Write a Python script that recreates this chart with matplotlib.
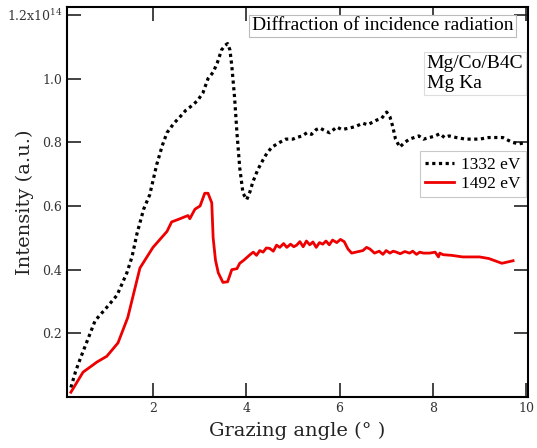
import numpy as np
import matplotlib
matplotlib.use('Agg')
import matplotlib.pyplot as plt

plt.rcParams['font.family'] = 'DejaVu Serif'
plt.rcParams['mathtext.fontset'] = 'dejavuserif'

# 1332 eV (black dotted), intensity in units of 1e14
x_1332 = [0.24, 0.34, 0.44, 0.6, 0.76, 1.0, 1.23, 1.44, 1.55, 1.66, 1.8, 1.93, 2.08, 2.2, 2.3,
          2.45, 2.58, 2.7, 2.79, 2.95, 3.07, 3.18, 3.29, 3.38, 3.47, 3.55, 3.6, 3.65, 3.69, 3.75,
          3.8, 3.86, 3.93, 4.01, 4.08, 4.14, 4.25, 4.36, 4.44, 4.55, 4.72, 4.85, 5.0, 5.08, 5.2,
          5.3, 5.4, 5.5, 5.58, 5.7, 5.79, 5.94, 6.05, 6.22, 6.35, 6.5, 6.6, 6.8, 6.9, 7.01, 7.08,
          7.14, 7.2, 7.29, 7.4, 7.5, 7.6, 7.7, 7.8, 7.93, 8.05, 8.15, 8.25, 8.35, 8.5, 8.7, 9.0,
          9.2, 9.5, 9.7, 9.85, 10.0]
y_1332 = [0.03, 0.08, 0.12, 0.18, 0.24, 0.28, 0.32, 0.39, 0.44, 0.515, 0.59, 0.635, 0.73, 0.79,
          0.83, 0.86, 0.88, 0.9, 0.91, 0.93, 0.955, 1.0, 1.02, 1.05, 1.09, 1.105, 1.11, 1.09,
          1.04, 0.94, 0.83, 0.72, 0.64, 0.62, 0.645, 0.675, 0.715, 0.745, 0.765, 0.785, 0.8,
          0.81, 0.81, 0.815, 0.82, 0.83, 0.825, 0.84, 0.845, 0.835, 0.83, 0.848, 0.84, 0.845,
          0.85, 0.86, 0.855, 0.87, 0.875, 0.895, 0.88, 0.85, 0.81, 0.785, 0.8, 0.81, 0.815,
          0.82, 0.81, 0.815, 0.82, 0.827, 0.815, 0.82, 0.815, 0.81, 0.81, 0.815, 0.815, 0.8,
          0.795, 0.8]

# 1492 eV (red solid)
x_1492 = [0.24, 0.5, 0.8, 1.01, 1.25, 1.46, 1.72, 2.0, 2.3, 2.4, 2.51, 2.58, 2.75, 2.79, 2.9,
          3.01, 3.11, 3.18, 3.26, 3.29, 3.34, 3.4, 3.5, 3.6, 3.69, 3.8, 3.86, 3.95, 4.08, 4.15,
          4.22, 4.29, 4.36, 4.43, 4.5, 4.58, 4.65, 4.72, 4.8, 4.87, 4.95, 5.02, 5.08, 5.15,
          5.22, 5.29, 5.36, 5.43, 5.5, 5.57, 5.64, 5.71, 5.78, 5.85, 5.94, 6.02, 6.1, 6.18,
          6.26, 6.35, 6.5, 6.58, 6.65, 6.75, 6.85, 6.93, 7.0, 7.08, 7.15, 7.22, 7.3, 7.4, 7.5,
          7.57, 7.65, 7.72, 7.8, 7.93, 8.05, 8.12, 8.15, 8.22, 8.4, 8.64, 9.0, 9.2, 9.48, 9.72]
y_1492 = [0.015, 0.078, 0.11, 0.128, 0.17, 0.25, 0.405, 0.47, 0.52, 0.55, 0.556, 0.56, 0.57,
          0.56, 0.59, 0.6, 0.64, 0.64, 0.61, 0.5, 0.43, 0.39, 0.36, 0.362, 0.4, 0.403, 0.42,
          0.43, 0.447, 0.455, 0.445, 0.46, 0.455, 0.468, 0.467, 0.458, 0.477, 0.47, 0.482,
          0.47, 0.48, 0.472, 0.477, 0.488, 0.472, 0.49, 0.478, 0.487, 0.47, 0.485, 0.48, 0.49,
          0.478, 0.493, 0.485, 0.495, 0.488, 0.465, 0.452, 0.455, 0.46, 0.47, 0.465, 0.452,
          0.458, 0.448, 0.46, 0.452, 0.458, 0.455, 0.45, 0.457, 0.452, 0.458, 0.448, 0.455,
          0.452, 0.452, 0.455, 0.44, 0.452, 0.447, 0.445, 0.44, 0.44, 0.435, 0.42, 0.428]

xticks = [2, 4, 6, 8, 10]
yticks = [0.2, 0.4, 0.6, 0.8, 1.0, 1.2]
ytick_labels = ['0.2', '0.4', '0.6', '0.8', '1.0', r'1.2x10$^{14}$']

fig = plt.figure(figsize=(5.37, 4.48), dpi=100)
ax = fig.add_axes([0.1248, 0.1138, 0.8584, 0.8706])

ax.plot(x_1332, y_1332, color='black', linestyle=(0, (1, 1.1)), linewidth=2.3, label='1332 eV')
ax.plot(x_1492, y_1492, color='#ee0000', linestyle='-', linewidth=2.0, label='1492 eV')

ax.set_xlim(0.157, 10.04)
ax.set_ylim(0.0, 1.225)
ax.set_xticks(xticks)
ax.set_xticklabels([str(t) for t in xticks])
ax.set_yticks(yticks)
ax.set_yticklabels(ytick_labels)
ax.tick_params(direction='in', length=10, width=1.2, labelsize=9,
               top=True, right=True, colors='#222222', labelcolor='#333333')
for s in ax.spines.values():
    s.set_linewidth(1.5)

ax.set_xlabel('Grazing angle (° )', fontsize=14, color='#222222', labelpad=5)
ax.set_ylabel('Intensity (a.u.)', fontsize=14, color='#222222')
ax.yaxis.set_label_coords(-0.072, 0.5)

box = dict(boxstyle='square,pad=0.12', facecolor='white', edgecolor='#bbbbbb', linewidth=0.8)
ax.text(0.968, 0.952, 'Diffraction of incidence radiation', transform=ax.transAxes,
        ha='right', va='center', fontsize=14, family='Liberation Serif', bbox=box)
ax.text(0.78, 0.83, 'Mg/Co/B4C\nMg Ka', transform=ax.transAxes,
        ha='left', va='center', fontsize=14, family='Liberation Serif', linespacing=1.2,
        bbox=dict(boxstyle='square,pad=0.15', facecolor='white', edgecolor='#dddddd', linewidth=0.8))

leg = ax.legend(loc='upper left', bbox_to_anchor=(0.765, 0.63),
                prop={'family': 'Liberation Serif', 'size': 12.5},
                frameon=True, fancybox=False, handlelength=1.7, borderpad=0.3,
                labelspacing=0.2, handletextpad=0.4, borderaxespad=0)
leg.get_frame().set_edgecolor('#bbbbbb')
leg.get_frame().set_linewidth(0.8)

fig.savefig('out.png', dpi=100)
